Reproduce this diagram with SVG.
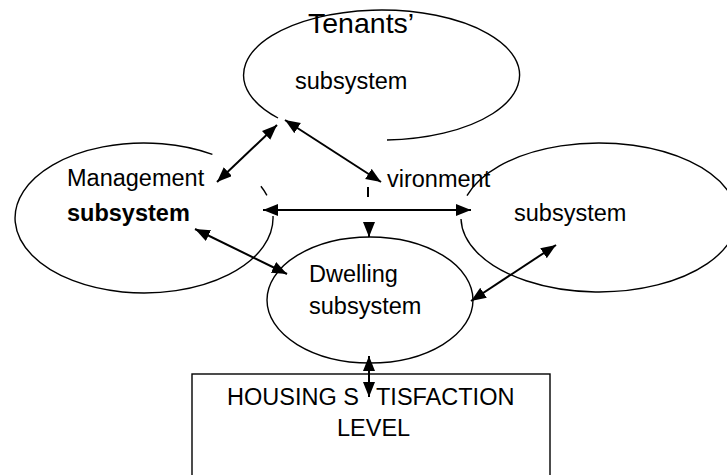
<svg xmlns="http://www.w3.org/2000/svg" width="727" height="475" viewBox="0 0 727 475">
<style>
.sh{fill:none;stroke:#000;stroke-width:1.4}
.ar{fill:none;stroke:#000;stroke-width:2}
.t{font-family:"Liberation Sans",Arial,sans-serif;font-size:23.5px;fill:#000}
.b{font-weight:bold}
</style>
<defs>
<marker id="ah" markerUnits="userSpaceOnUse" markerWidth="18" markerHeight="14" refX="15" refY="6" orient="auto-start-reverse">
<path d="M0,0 L15,6 L0,12 z" fill="#000"/>
</marker>
</defs>
<rect width="727" height="475" fill="#fff"/>
<g id="tenants">
<path class="sh" d="M387,140 A138,65 0 1 0 278,118"/>
<text class="t" x="308" y="33" style="font-size:28.5px">Tenants’</text>
<text class="t" x="295" y="89">subsystem</text>
</g>
<g id="management">
<path class="sh" d="M273,216 A129,75 0 1 1 212.4,154.4"/>
<path class="sh" d="M260.9,186.3 A129,75 0 0 1 266.9,195.3"/>
<text class="t" x="67" y="186">Management</text>
<text class="t b" x="67" y="221">subsystem</text>
</g>
<g id="environment">
<path class="sh" d="M467,195.7 A138,74.5 0 1 1 461,219"/>
<text class="t" x="387" y="187">vironment</text>
<text class="t" x="514" y="221">subsystem</text>
</g>
<g id="dwelling">
<ellipse class="sh" cx="370" cy="300" rx="103" ry="63"/>
<text class="t" x="309" y="282">Dwelling</text>
<text class="t" x="309" y="314">subsystem</text>
</g>
<g id="satisfaction">
<rect class="sh" x="192" y="374" width="358" height="130"/>
<text class="t" x="227" y="405">HOUSING S<tspan x="376">TISFACTION</tspan></text>
<text class="t" x="337" y="436">LEVEL</text>
</g>
<g id="connectors">
<line class="ar" x1="217" y1="182" x2="277" y2="125" marker-start="url(#ah)" marker-end="url(#ah)"/>
<line class="ar" x1="285" y1="120" x2="381" y2="182" marker-start="url(#ah)" marker-end="url(#ah)"/>
<line class="ar" x1="263" y1="210" x2="471" y2="210" marker-start="url(#ah)" marker-end="url(#ah)"/>
<line class="ar" x1="368" y1="187" x2="368" y2="197"/>
<line class="ar" x1="369" y1="223" x2="369" y2="237" marker-end="url(#ah)"/>
<line class="ar" x1="195" y1="229" x2="287" y2="274" marker-start="url(#ah)" marker-end="url(#ah)"/>
<line class="ar" x1="471" y1="301" x2="556" y2="245" marker-start="url(#ah)" marker-end="url(#ah)"/>
<line class="ar" x1="369" y1="356" x2="369" y2="397" marker-start="url(#ah)" marker-end="url(#ah)"/>
</g>
</svg>
